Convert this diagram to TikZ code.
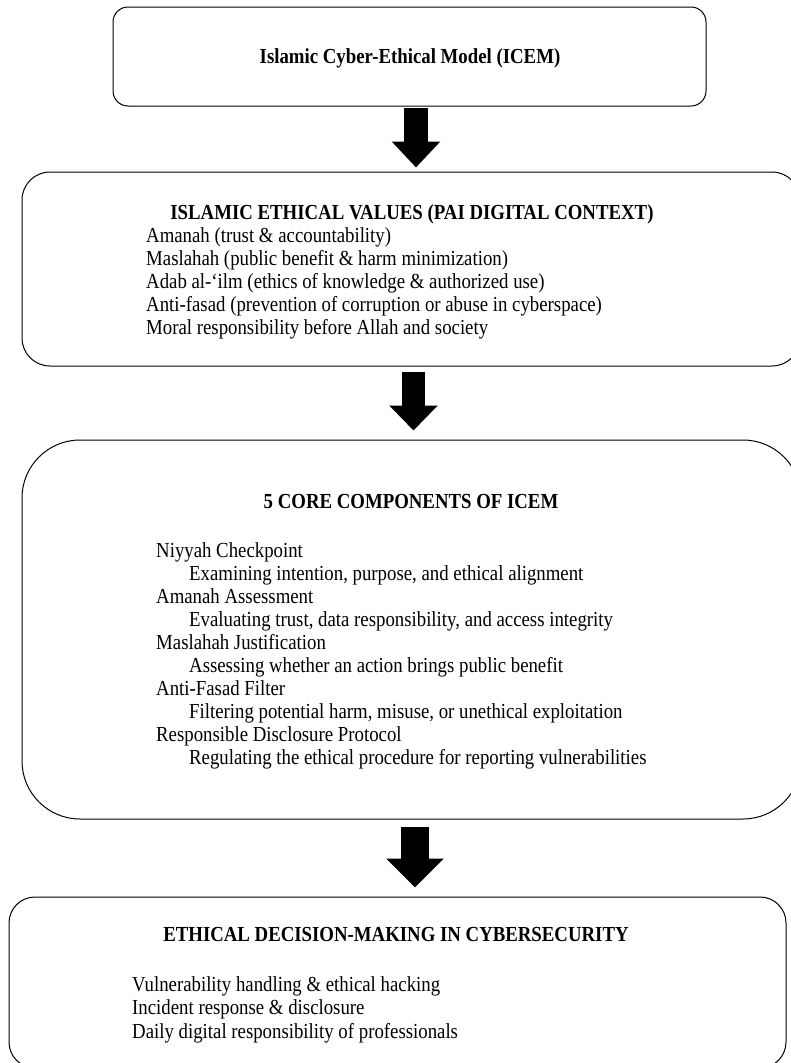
\documentclass[tikz,border=0pt]{standalone}
\usepackage{fontspec}
\usepackage{graphicx}
\setmainfont{Liberation Serif}
\usetikzlibrary{arrows.meta,calc}
\newcommand{\vstretch}[1]{\scalebox{1}[1.14]{#1}}
\begin{document}
\begin{tikzpicture}[x=1pt,y=-1pt,
  box/.style={draw=black, line width=1pt, inner sep=0pt},
  ttl/.style={font=\fontsize{18.8}{23}\selectfont\bfseries, anchor=base, inner sep=0pt},
  itm/.style={font=\fontsize{18.8}{23}\selectfont, anchor=base west, inner sep=0pt},
  blockarrow/.style={draw=black, line width=#1}]
\clip (0,0) rectangle (791,1063);
\fill[white] (0,0) rectangle (791,1063);

% boxes
\node[box, minimum width=593pt, minimum height=99pt, rounded corners=15pt] (b1) at (409.5,56.5) {};
\node[box, minimum width=778pt, minimum height=194pt, rounded corners=28pt] (b2) at (411,269) {};
\node[box, minimum width=779pt, minimum height=379pt, rounded corners=58pt] (b3) at (411.5,629.5) {};
\node[box, minimum width=777pt, minimum height=171pt, rounded corners=26pt] (b4) at (397.5,982.5) {};

% box 1
\node[ttl] (t1) at (410,63) {\vstretch{Islamic Cyber-Ethical Model (ICEM)}};

% box 2
\node[ttl] (t2) at (412,219) {\vstretch{ISLAMIC ETHICAL VALUES (PAI DIGITAL CONTEXT)}};
\node[itm] (v1) at (146,242) {\vstretch{Amanah (trust \& accountability)}};
\node[itm] (v2) at (146,265) {\vstretch{Maslahah (public benefit \& harm minimization)}};
\node[itm] (v3) at (146,288) {\vstretch{Adab al-‘ilm (ethics of knowledge \& authorized use)}};
\node[itm] (v4) at (146,311) {\vstretch{Anti-fasad (prevention of corruption or abuse in cyberspace)}};
\node[itm] (v5) at (146,334) {\vstretch{Moral responsibility before Allah and society}};

% box 3
\node[ttl] (t3) at (411,508) {\vstretch{5 CORE COMPONENTS OF ICEM}};
\node[itm] (c1) at (156,557.0) {\vstretch{Niyyah Checkpoint}};
\node[itm] (c2) at (189,580.1) {\vstretch{Examining intention, purpose, and ethical alignment}};
\node[itm] (c3) at (156,603.2) {\vstretch{Amanah Assessment}};
\node[itm] (c4) at (189,626.3) {\vstretch{Evaluating trust, data responsibility, and access integrity}};
\node[itm] (c5) at (156,649.4) {\vstretch{Maslahah Justification}};
\node[itm] (c6) at (189,672.5) {\vstretch{Assessing whether an action brings public benefit}};
\node[itm] (c7) at (156,695.6) {\vstretch{Anti-Fasad Filter}};
\node[itm] (c8) at (189,718.7) {\vstretch{Filtering potential harm, misuse, or unethical exploitation}};
\node[itm] (c9) at (156,741.8) {\vstretch{Responsible Disclosure Protocol}};
\node[itm] (c10) at (189,764.9) {\vstretch{Regulating the ethical procedure for reporting vulnerabilities}};

% box 4
\node[ttl] (t4) at (396,941) {\vstretch{ETHICAL DECISION-MAKING IN CYBERSECURITY}};
\node[itm] (d1) at (132,991) {\vstretch{Vulnerability handling \& ethical hacking}};
\node[itm] (d2) at (132,1014) {\vstretch{Incident response \& disclosure}};
\node[itm] (d3) at (132,1038) {\vstretch{Daily digital responsibility of professionals}};

% arrows
\coordinate (a1) at (416,0);
\coordinate (a2) at (413.5,0);
\coordinate (a3) at (415,0);
\draw[blockarrow=24pt, -{Triangle[width=47pt,length=26pt]}, shorten <=1pt, shorten >=4pt]
  (b1.south -| a1) -- (b2.north -| a1);
\draw[blockarrow=23pt, -{Triangle[width=47pt,length=25pt]}, shorten <=5pt, shorten >=9pt]
  (b2.south -| a2) -- (b3.north -| a2);
\draw[blockarrow=28pt, -{Triangle[width=56pt,length=29pt]}, shorten <=7pt, shorten >=9pt]
  (b3.south -| a3) -- (b4.north -| a3);
\end{tikzpicture}
\end{document}
